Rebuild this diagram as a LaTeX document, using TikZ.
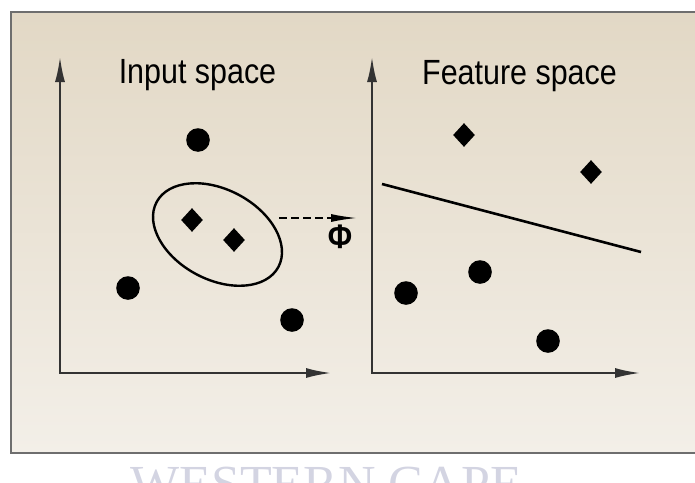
\documentclass[tikz,border=0pt]{standalone}
\usepackage{fontspec}
\setmainfont{Liberation Sans}[FakeStretch=0.87]
\newfontfamily\wmfont{Liberation Serif}
\usepackage{xcolor}
\definecolor{paneltop}{HTML}{E2D8C5}
\definecolor{panelbot}{HTML}{F3EFE8}
\definecolor{paneledge}{HTML}{6E6E6E}
\definecolor{wmgray}{HTML}{D3D4E2}
\usetikzlibrary{shapes.geometric, arrows.meta, positioning}

\begin{document}
\begin{tikzpicture}[
    x=0.5pt, y=0.5pt,
    >={Latex[length=13pt, width=5pt]},
    axis/.style={<->, line width=1.3pt, draw=black!80},
    dot/.style={circle, fill=black, inner sep=0pt, minimum size=11.8pt},
    gem/.style={diamond, fill=black, inner sep=0pt, minimum width=11pt, minimum height=12pt},
    title/.style={font=\fontsize{17.5}{21}\selectfont, anchor=base, inner sep=0pt},
    maparrow/.style={-{Latex[length=13pt, width=4pt]}, line width=0.8pt, dash pattern=on 4pt off 2pt}
]
\useasboundingbox (0,0) rectangle (695,-482);
\clip (0,0) rectangle (695,-482);

% ── Panel ──
\shade[top color=paneltop, bottom color=panelbot] (11,-12) rectangle (705,-453);
\draw[paneledge, line width=1.1pt] (11,-12) rectangle (705,-453);

% ── Axes ──
\coordinate (inO) at (60,-373);
\coordinate (inY) at (60,-56);
\coordinate (inX) at (332,-373);
\draw[axis] (inY) -- (inO) -- (inX);

\coordinate (ftO) at (372,-373);
\coordinate (ftY) at (372,-56);
\coordinate (ftX) at (641,-373);
\draw[axis] (ftY) -- (ftO) -- (ftX);

% ── Titles ──
\node[title] (intitle) at (197.5,-83) {Input space};
\node[title] (fttitle) at (519.5,-84) {Feature space};

% ── Input space points ──
\node[dot] (ia) at (198,-140) {};
\node[dot] (ib) at (128,-288) {};
\node[dot] (ic) at (292,-320) {};
\node[gem] (id) at (192,-220) {};
\node[gem] (ie) at (234,-240) {};
\node[draw, ellipse, line width=1.2pt, inner sep=0pt, rotate=-28,
      minimum width=69pt, minimum height=45pt] (cluster) at (217.5,-234.5) {};

% ── Mapping ──
\coordinate (mapA) at (279,-218);
\coordinate (mapB) at (357,-218);
\draw[maparrow] (mapA) -- (mapB);
\node[font=\fontsize{17}{20}\selectfont\bfseries, inner sep=0pt] (phi) at (340,-237) {Φ};

% ── Feature space points ──
\node[gem] (fa) at (464,-135) {};
\node[gem] (fb) at (591,-172) {};
\node[dot] (fc) at (406,-293) {};
\node[dot] (fd) at (480,-272) {};
\node[dot] (fe) at (548,-341) {};

\coordinate (hpA) at (382,-184);
\coordinate (hpB) at (641,-252);
\draw[line width=1.3pt] (hpA) -- (hpB);

% ── Watermark ──
\node[font=\wmfont\fontsize{26}{30}\selectfont, text=wmgray, anchor=base west, inner sep=0pt]
      (wm) at (130,-501) {WESTERN CAPE};
\end{tikzpicture}
\end{document}
